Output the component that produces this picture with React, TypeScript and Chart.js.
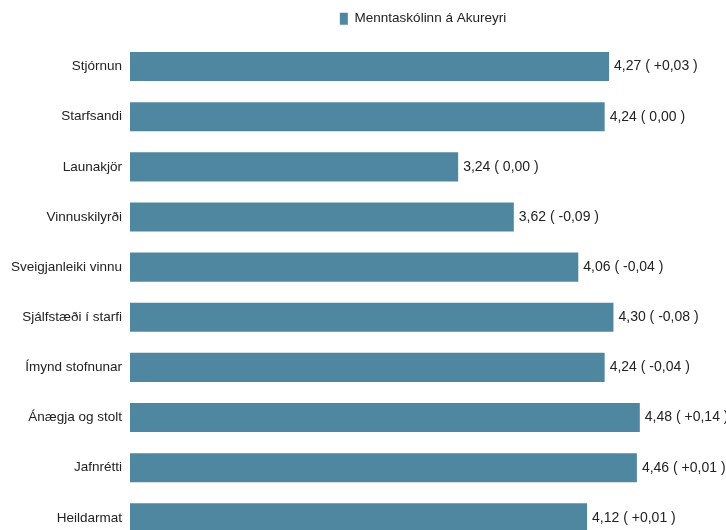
import React, { useEffect, useRef } from "react";
import { Chart, registerables } from "chart.js";

Chart.register(...registerables);

const categories = [
  "Stjórnun",
  "Starfsandi",
  "Launakjör",
  "Vinnuskilyrði",
  "Sveigjanleiki vinnu",
  "Sjálfstæði í starfi",
  "Ímynd stofnunar",
  "Ánægja og stolt",
  "Jafnrétti",
  "Heildarmat",
];
const values = [4.27, 4.24, 3.24, 3.62, 4.06, 4.3, 4.24, 4.48, 4.46, 4.12];
const changes = ["+0,03", "0,00", "0,00", "-0,09", "-0,04", "-0,08", "-0,04", "+0,14", "+0,01", "+0,01"];
const seriesName = "Menntaskólinn á Akureyri";

const FONT = "'Liberation Sans', Arial, sans-serif";
const BAR = "#4f87a1";

const valueLabels = {
  id: "valueLabels",
  afterDatasetsDraw(chart: any) {
    const ctx = chart.ctx;
    const meta = chart.getDatasetMeta(0);
    ctx.save();
    ctx.font = `14px ${FONT}`;
    ctx.fillStyle = "#222";
    ctx.textAlign = "left";
    ctx.textBaseline = "middle";
    meta.data.forEach((el: any, i: number) => {
      const txt = `${values[i].toFixed(2).replace(".", ",")} ( ${changes[i]} )`;
      ctx.fillText(txt, el.x + 5, el.y);
    });
    ctx.restore();
  },
};

const legendSpacer = {
  id: "legendSpacer",
  beforeLayout(chart: any) {
    const lg = chart.legend;
    if (lg && !lg._spacerPatched) {
      const orig = lg.fit.bind(lg);
      lg.fit = () => {
        orig();
        lg.height += 6;
      };
      lg._spacerPatched = true;
    }
  },
};

export default function App() {
  const ref = useRef<HTMLCanvasElement>(null);
  useEffect(() => {
    document.body.style.margin = "0";
    const chart = new Chart(ref.current!, {
      type: "bar",
      data: {
        labels: categories,
        datasets: [
          {
            label: seriesName,
            data: values,
            backgroundColor: BAR,
            borderWidth: 0,
            categoryPercentage: 1,
            barPercentage: 0.58,
          },
        ],
      },
      options: {
        indexAxis: "y",
        animation: false,
        responsive: true,
        maintainAspectRatio: false,
        layout: { padding: { left: 0, right: 10, top: 2, bottom: 0 } },
        plugins: {
          legend: {
            display: true,
            position: "top",
            fullSize: false,
            labels: {
              boxWidth: 8,
              boxHeight: 12,
              padding: 10,
              color: "#222",
              font: { family: FONT, size: 13.5 },
            },
          },
          tooltip: { enabled: false },
        },
        scales: {
          x: {
            display: false,
            min: 1,
            max: 5,
          },
          y: {
            grid: { display: false, drawTicks: false },
            border: { display: false },
            ticks: {
              padding: 8,
              color: "#222",
              font: { family: FONT, size: 13.5 },
            },
            afterFit(scale: any) {
              scale.width = 130;
            },
          },
        },
      },
      plugins: [legendSpacer, valueLabels],
    });
    return () => chart.destroy();
  }, []);
  return (
    <div style={{ position: "absolute", left: 0, top: 0, width: 726, height: 559 }}>
      <canvas ref={ref} />
    </div>
  );
}
